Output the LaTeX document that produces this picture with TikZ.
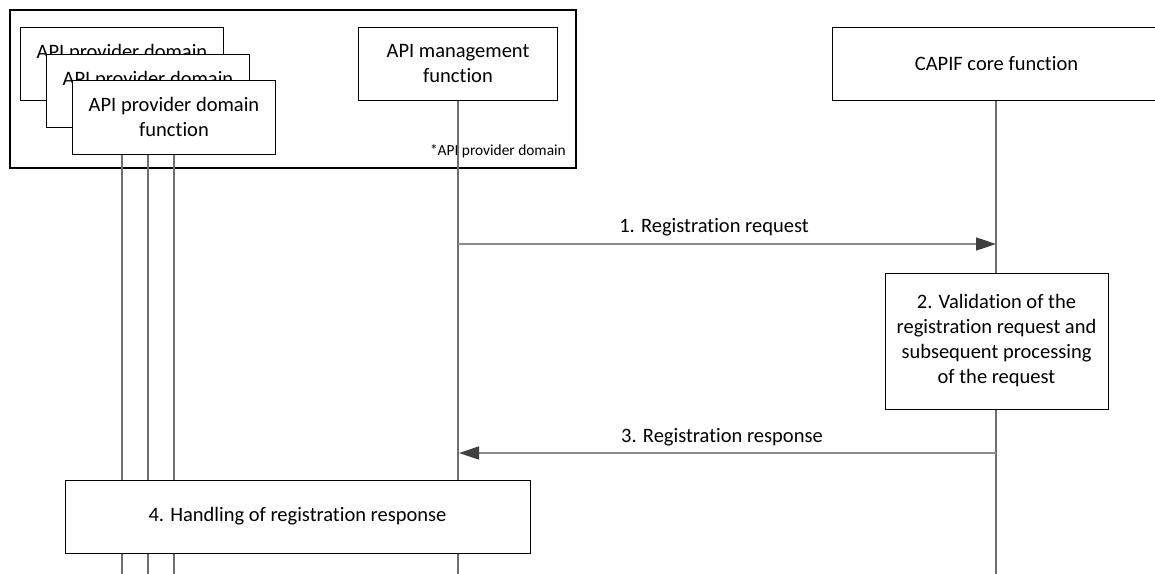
\documentclass[tikz,border=0pt]{standalone}
\usepackage{fontspec}
\setmainfont[Ligatures=NoCommon]{Carlito}
\usetikzlibrary{arrows.meta}
\definecolor{lifegray}{HTML}{6E6E6E}
\definecolor{msggray}{HTML}{8C8C8C}
\definecolor{headgray}{HTML}{404040}
\begin{document}
\begin{tikzpicture}[x=1pt,y=-1pt,
  box/.style={draw=black, line width=1pt, fill=white, align=center, inner sep=0pt,
    font=\fontsize{20.5}{25}\selectfont},
  frame/.style={draw=black, line width=2pt},
  life/.style={draw=lifegray, line width=1.3pt},
  msg/.style={draw=msggray, line width=1.6pt, -{Triangle[length=20pt,width=13pt,color=headgray]}},
  lbl/.style={font=\fontsize{20.5}{25}\selectfont, inner sep=0pt, anchor=base},
  note/.style={font=\fontsize{15.4}{18}\selectfont, inner sep=0pt, anchor=base east}]
\useasboundingbox (0,0) rectangle (1155,573);
\clip (0,0) rectangle (1155,573);

% API provider domain frame
\node[frame, minimum width=566pt, minimum height=158pt, inner sep=0pt] (dom) at (293,89) {};

% stacked API provider domain function boxes
\node[box, minimum width=203pt, minimum height=73pt] (pA) at (122,64) {API provider domain\\function};
\node[box, minimum width=203pt, minimum height=73pt] (pB) at (148,90.5) {API provider domain\\function};
\node[box, minimum width=203pt, minimum height=74pt] (pC) at (174,117) {API provider domain\\function};

% API management function
\node[box, minimum width=199pt, minimum height=73pt] (mgmt) at (458,63.5) {API management\\function};

% CAPIF core function
\node[box, minimum width=329pt, minimum height=73pt] (capif) at (996.5,63.5) {CAPIF core function};

\node[note] (dnote) at (566,155) {*API provider domain};

% lifeline ends
\coordinate (eA) at (122,580);
\coordinate (eB) at (148,580);
\coordinate (eC) at (174,580);
\coordinate (eM) at (458,580);
\coordinate (eK) at (996,580);

\draw[life] (pC.south -| eA) -- (eA);
\draw[life] (pC.south -| eB) -- (eB);
\draw[life] (pC.south) -- (eC);
\draw[life] (mgmt.south) -- (eM);
\draw[life] (capif.south -| eK) -- (eK);

% messages
\coordinate (m1) at (458,244);
\coordinate (k1) at (996,244);
\coordinate (k3) at (996,453);
\coordinate (m3) at (459,453);
\draw[msg] (m1) -- (k1);
\node[lbl] (l1) at (714,232) {1. Registration request};

\node[box, minimum width=223pt, minimum height=136pt] (val) at (996.5,341)
  {2. Validation of the\\registration request and\\subsequent processing\\of the request};

\draw[msg] (k3) -- (m3);
\node[lbl] (l3) at (722,442) {3. Registration response};

\node[box, minimum width=465pt, minimum height=73pt] (hand) at (297.5,516.5)
  {4. Handling of registration response};
\end{tikzpicture}
\end{document}
